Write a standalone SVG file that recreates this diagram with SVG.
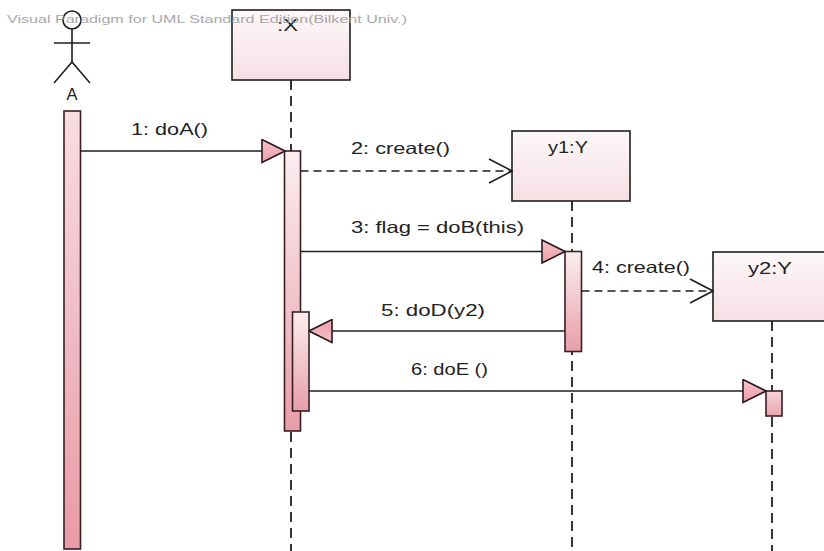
<svg xmlns="http://www.w3.org/2000/svg" width="824" height="551" viewBox="0 0 824 551">
<style>
.lbl{font-family:"Liberation Sans",Arial,sans-serif;font-size:16.5px;fill:#222}
.box{stroke:#1e1e1e;stroke-width:1.6;fill:url(#boxG)}
.act{stroke:#3a1e22;stroke-width:1.6}
.life{stroke:#1e1e1e;stroke-width:1.8;stroke-dasharray:10 6;fill:none}
.msg{stroke:#1e1e1e;stroke-width:1.6;fill:none}
.dash{stroke-dasharray:8 5}
.wm{font-family:"Liberation Sans",Arial,sans-serif;font-size:11.5px;fill:#9a9a9a;opacity:0.85}
</style>
<defs>
<linearGradient id="boxG" x1="0" y1="0" x2="0" y2="1">
<stop offset="0" stop-color="#fdf7f8"/><stop offset="1" stop-color="#f6dfe4"/>
</linearGradient>
<linearGradient id="actG" x1="0" y1="0" x2="0" y2="1">
<stop offset="0" stop-color="#fbeef0"/><stop offset="1" stop-color="#e79ea9"/>
</linearGradient>
<linearGradient id="actA" x1="0" y1="0" x2="0" y2="1">
<stop offset="0" stop-color="#f8dde1"/><stop offset="1" stop-color="#e89aa6"/>
</linearGradient>
<linearGradient id="actS" x1="0" y1="0" x2="0" y2="1">
<stop offset="0" stop-color="#f7d6db"/><stop offset="1" stop-color="#e9a4ae"/>
</linearGradient>
<linearGradient id="headG" x1="0" y1="0" x2="0" y2="1">
<stop offset="0" stop-color="#f6c3ca"/><stop offset="1" stop-color="#ee9ea9"/>
</linearGradient>
<marker id="solidHead" viewBox="0 0 25 25" refX="24" refY="12.5" markerWidth="25" markerHeight="25" markerUnits="userSpaceOnUse" orient="auto">
<path d="M1,1 L24,12.5 L1,24 Z" fill="url(#headG)" stroke="#2a1a1c" stroke-width="1.6" stroke-linejoin="miter"/>
</marker>
<marker id="openHead" viewBox="0 0 25 26" refX="24" refY="13" markerWidth="25" markerHeight="26" markerUnits="userSpaceOnUse" orient="auto">
<path d="M1,1 L24,13 L1,25" fill="none" stroke="#1e1e1e" stroke-width="1.6"/>
</marker>
</defs>
<rect width="824" height="551" fill="#ffffff"/>

<g id="lifelines">
<line class="life" x1="291" y1="80" x2="291" y2="551"/>
<line class="life" x1="572" y1="201" x2="572" y2="551"/>
<line class="life" x1="772" y1="321" x2="772" y2="551"/>
</g>

<g id="actor-A">
<circle cx="72" cy="20" r="9" fill="none" stroke="#1e1e1e" stroke-width="1.6"/>
<line x1="72" y1="29" x2="72" y2="62" stroke="#1e1e1e" stroke-width="1.6"/>
<line x1="54" y1="43" x2="90" y2="43" stroke="#1e1e1e" stroke-width="1.6"/>
<polyline points="54,83 72,62 90,83" fill="none" stroke="#1e1e1e" stroke-width="1.6"/>
<text class="lbl" x="72" y="100" text-anchor="middle" font-size="15">A</text>
<rect class="act" x="64" y="111" width="16.5" height="438" fill="url(#actA)"/>
</g>

<g id="X">
<rect class="box" x="232" y="10" width="118" height="70"/>
<text class="lbl" x="277" y="31" textLength="21" lengthAdjust="spacingAndGlyphs">:X</text>
<rect class="act" x="284.5" y="151" width="16" height="280" fill="url(#actG)"/>
<rect class="act" x="292.5" y="312" width="16.5" height="99" fill="url(#actG)"/>
</g>

<g id="y1">
<rect class="box" x="512" y="131" width="118" height="70"/>
<text class="lbl" x="548" y="153" textLength="40" lengthAdjust="spacingAndGlyphs">y1:Y</text>
<rect class="act" x="565" y="251.5" width="16.5" height="100" fill="url(#actG)"/>
</g>

<g id="y2">
<rect class="box" x="713" y="252" width="118" height="69"/>
<text class="lbl" x="748" y="274" textLength="44" lengthAdjust="spacingAndGlyphs">y2:Y</text>
<rect class="act" x="766" y="391" width="16" height="25" fill="url(#actS)"/>
</g>

<g id="connectors">
<line class="msg" x1="80.5" y1="151" x2="285" y2="151" marker-end="url(#solidHead)"/>
<text class="lbl" x="131" y="135" textLength="77" lengthAdjust="spacingAndGlyphs">1: doA()</text>

<line class="msg dash" x1="300.5" y1="171" x2="512" y2="171" marker-end="url(#openHead)"/>
<text class="lbl" x="351" y="154" textLength="99" lengthAdjust="spacingAndGlyphs">2: create()</text>

<line class="msg" x1="300.5" y1="251.5" x2="565" y2="251.5" marker-end="url(#solidHead)"/>
<text class="lbl" x="351" y="233" textLength="173" lengthAdjust="spacingAndGlyphs">3: flag = doB(this)</text>

<line class="msg dash" x1="581.5" y1="291" x2="713" y2="291" marker-end="url(#openHead)"/>
<text class="lbl" x="592" y="273" textLength="98" lengthAdjust="spacingAndGlyphs">4: create()</text>

<line class="msg" x1="565" y1="331" x2="309" y2="331" marker-end="url(#solidHead)"/>
<text class="lbl" x="381" y="316" textLength="104" lengthAdjust="spacingAndGlyphs">5: doD(y2)</text>

<line class="msg" x1="309" y1="391" x2="766" y2="391" marker-end="url(#solidHead)"/>
<text class="lbl" x="411" y="375" textLength="77" lengthAdjust="spacingAndGlyphs">6: doE ()</text>
</g>

<text class="wm" x="7" y="23" textLength="400" lengthAdjust="spacingAndGlyphs">Visual Paradigm for UML Standard Edition(Bilkent Univ.)</text>
</svg>
